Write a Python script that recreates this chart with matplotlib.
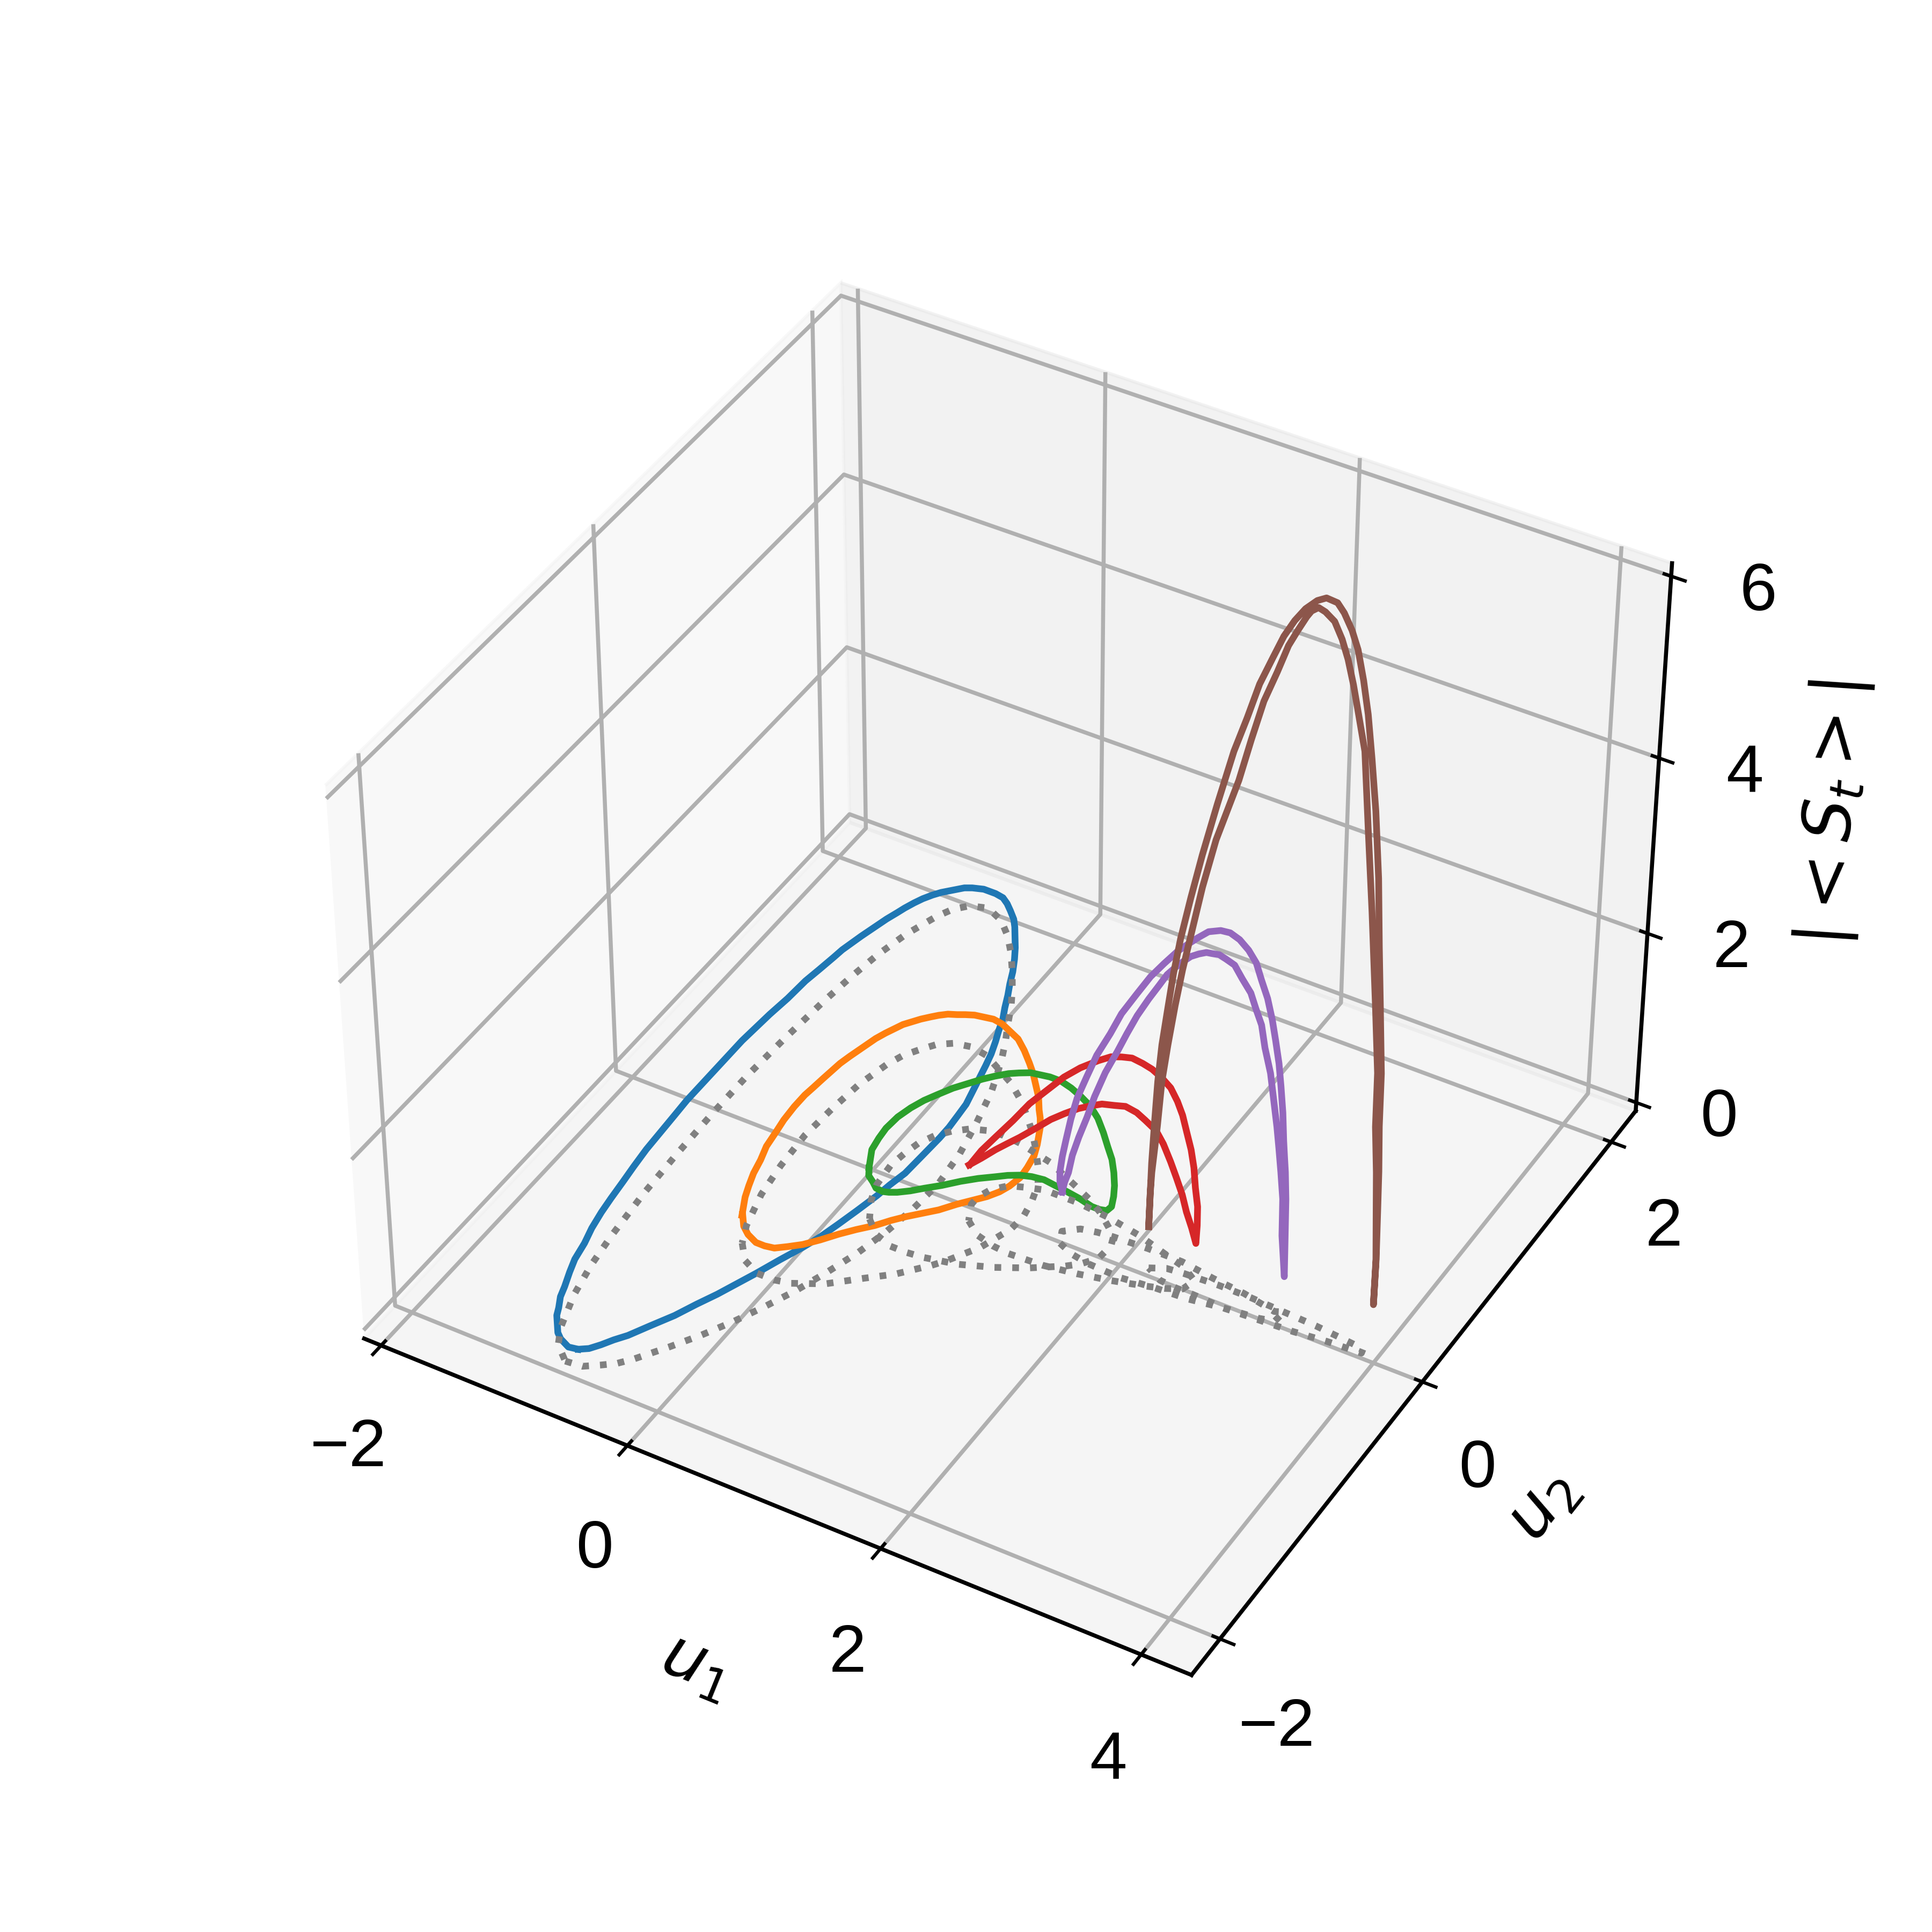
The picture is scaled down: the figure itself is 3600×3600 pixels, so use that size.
import matplotlib
matplotlib.use('Agg')
import matplotlib.pyplot as plt

plt.rcParams['font.family'] = ['Liberation Sans', 'DejaVu Sans']
plt.rcParams['font.size'] = 20
plt.rcParams['grid.linewidth'] = 1.2
plt.rcParams['axes.linewidth'] = 1.2
plt.rcParams['xtick.major.width'] = 1.0
plt.rcParams['ytick.major.width'] = 1.0

u1_blue = [-0.59,-0.53,-0.48,-0.43,-0.37,-0.29,-0.20,-0.13,-0.06,0.00,0.06,0.13,0.20,0.25,0.29,0.33,0.37,0.39,0.42,0.43,0.44,0.44,0.43,0.42,0.39,0.36,0.33,0.30,0.26,0.22,0.18,0.13,0.08,0.03,-0.02,-0.08,-0.14,-0.20,-0.26,-0.31,-0.38,-0.44,-0.50,-0.57,-0.62,-0.67,-0.71,-0.75,-0.80,-0.84,-0.88,-0.92,-0.96,-1.00,-1.03,-1.06,-1.08,-1.11,-1.13,-1.15,-1.17,-1.19,-1.21,-1.22,-1.24,-1.26,-1.27,-1.29,-1.30,-1.31,-1.31,-1.31,-1.31,-1.31,-1.30,-1.29,-1.28,-1.26,-1.24,-1.22,-1.20,-1.17,-1.13,-1.10,-1.06,-1.01,-0.98,-0.93,-0.90,-0.85,-0.80,-0.75,-0.66,-0.59]
u2_blue = [-2.04,-2.01,-1.96,-1.90,-1.84,-1.73,-1.61,-1.49,-1.38,-1.27,-1.16,-1.02,-0.89,-0.78,-0.66,-0.53,-0.39,-0.29,-0.18,-0.03,0.13,0.22,0.32,0.41,0.51,0.61,0.71,0.80,0.89,0.97,1.06,1.14,1.23,1.31,1.40,1.49,1.57,1.64,1.71,1.76,1.81,1.85,1.88,1.89,1.89,1.89,1.88,1.87,1.85,1.82,1.79,1.76,1.72,1.67,1.62,1.56,1.51,1.44,1.38,1.32,1.26,1.19,1.12,1.05,0.93,0.82,0.66,0.51,0.39,0.27,0.15,0.02,-0.11,-0.25,-0.38,-0.52,-0.66,-0.80,-0.92,-1.05,-1.16,-1.28,-1.39,-1.51,-1.60,-1.70,-1.77,-1.84,-1.89,-1.94,-1.99,-2.02,-2.05,-2.04]
s_blue = [0.35] * 94

u1_orange = [-0.22,-0.15,-0.08,0.01,0.08,0.15,0.22,0.30,0.38,0.46,0.54,0.63,0.70,0.77,0.85,0.93,1.01,1.08,1.15,1.20,1.23,1.25,1.24,1.22,1.18,1.04,0.99,0.94,0.87,0.79,0.71,0.63,0.53,0.43,0.34,0.25,0.17,0.10,0.03,-0.03,-0.08,-0.14,-0.19,-0.23,-0.28,-0.32,-0.36,-0.39,-0.42,-0.45,-0.47,-0.49,-0.51,-0.53,-0.54,-0.55,-0.56,-0.57,-0.57,-0.56,-0.54,-0.52,-0.48,-0.45,-0.41,-0.37,-0.33,-0.29]
u2_orange = [-0.96,-1.03,-1.07,-1.10,-1.10,-1.09,-1.05,-1.00,-0.93,-0.85,-0.78,-0.71,-0.64,-0.58,-0.52,-0.46,-0.38,-0.32,-0.26,-0.20,-0.14,-0.06,0.02,0.11,0.19,0.39,0.45,0.50,0.58,0.65,0.72,0.78,0.85,0.91,0.94,0.97,0.98,0.97,0.96,0.94,0.92,0.90,0.87,0.84,0.80,0.76,0.72,0.67,0.62,0.56,0.50,0.44,0.38,0.31,0.24,0.17,0.09,0.02,-0.08,-0.19,-0.29,-0.40,-0.50,-0.60,-0.69,-0.77,-0.83,-0.89]
s_orange = [0.60] * 25 + [0.45] * 43

u1_green = [0.38,0.42,0.48,0.53,0.68,0.72,0.77,0.84,0.91,1.00,1.09,1.18,1.27,1.34,1.41,1.49,1.58,1.68,1.78,1.72,1.83,1.89,1.94,1.97,1.93,1.88,1.81,1.73,1.64,1.54,1.43,1.32,1.21,1.11,1.01,0.92,0.85,0.78,0.71,0.65,0.58,0.52,0.46,0.39,0.33,0.28,0.24,0.21,0.20,0.21,0.23,0.27,0.31]
u2_green = [-0.47,-0.52,-0.55,-0.58,-0.69,-0.68,-0.66,-0.62,-0.57,-0.51,-0.44,-0.38,-0.33,-0.29,-0.26,-0.24,-0.23,-0.24,-0.25,-0.05,-0.07,-0.07,-0.06,-0.05,0.02,0.09,0.17,0.25,0.32,0.40,0.48,0.54,0.58,0.61,0.63,0.63,0.62,0.61,0.58,0.55,0.50,0.45,0.39,0.32,0.24,0.17,0.09,0.00,-0.10,-0.18,-0.27,-0.33,-0.39]
s_green = [0.80] * 4 + [1.00] * 15 + [0.60] * 4 + [0.65] * 30

u1_red = [0.78,0.82,0.87,0.96,1.06,1.18,1.31,1.44,1.59,1.69,1.79,1.88,1.98,2.07,2.16,2.24,2.31,2.36,2.41,2.47,2.51,2.54,2.56,2.56,2.56,2.54,2.52,2.50,2.46,2.42,2.37,2.32,2.25,2.19,2.11,2.04,1.95,1.87,1.79,1.69,1.59,1.48,1.36,1.26,1.16,1.04,0.88]
u2_red = [0.02,0.08,0.16,0.22,0.26,0.29,0.29,0.29,0.28,0.28,0.26,0.25,0.23,0.21,0.19,0.18,0.16,0.15,0.13,0.10,0.08,0.06,0.06,0.06,0.05,0.03,0.00,-0.02,-0.03,-0.04,-0.05,-0.06,-0.08,-0.09,-0.10,-0.12,-0.13,-0.15,-0.16,-0.17,-0.18,-0.19,-0.20,-0.20,-0.19,-0.18,-0.11]
s_red = [0.38,0.48,0.56,0.72,0.92,1.11,1.33,1.51,1.69,1.79,1.87,1.92,1.94,1.95,1.93,1.87,1.78,1.66,1.52,1.39,1.23,1.04,0.83,0.61,0.41,0.61,0.83,1.05,1.24,1.42,1.61,1.75,1.86,1.93,1.97,1.97,1.95,1.91,1.85,1.75,1.64,1.49,1.33,1.20,1.06,0.88,0.61]

u1_purple = [1.53,1.51,1.51,1.52,1.54,1.57,1.61,1.67,1.73,1.81,1.88,1.98,2.07,2.18,2.29,2.37,2.45,2.54,2.64,2.72,2.80,2.87,2.93,2.98,3.03,3.07,3.10,3.13,3.15,3.17,3.19,3.20,3.21,3.22,3.23,3.24,3.25,3.24,3.22,3.20,3.18,3.15,3.12,3.08,3.05,3.01,2.97,2.91,2.85,2.79,2.74,2.69,2.65,2.60,2.54,2.49,2.43,2.37,2.32,2.24,2.16,2.09,2.01,1.91,1.82,1.76,1.69,1.64,1.61,1.58,1.56]
u2_purple = [0.01,0.01,0.01,0.02,0.03,0.04,0.05,0.07,0.09,0.12,0.14,0.16,0.18,0.17,0.16,0.15,0.15,0.14,0.13,0.12,0.11,0.11,0.11,0.10,0.10,0.10,0.10,0.10,0.10,0.10,0.09,0.09,0.09,0.09,0.08,0.07,0.02,0.03,0.03,0.03,0.03,0.03,0.03,0.02,0.02,0.01,0.01,0.00,0.00,-0.01,-0.01,-0.02,-0.02,-0.03,-0.03,-0.04,-0.04,-0.04,-0.05,-0.05,-0.06,-0.07,-0.06,-0.05,-0.04,-0.04,-0.03,-0.03,-0.03,-0.03,-0.03]
s_purple = [0.49,0.60,0.72,0.89,1.08,1.33,1.58,1.84,2.09,2.34,2.58,2.83,3.05,3.27,3.48,3.61,3.73,3.86,3.94,3.97,3.95,3.87,3.76,3.61,3.43,3.21,2.99,2.75,2.50,2.21,1.91,1.73,1.56,1.25,0.84,0.38,0.94,1.35,1.65,1.91,2.15,2.44,2.73,3.01,3.25,3.43,3.58,3.72,3.84,3.89,3.91,3.91,3.90,3.87,3.81,3.74,3.64,3.53,3.40,3.20,2.98,2.75,2.49,2.18,1.84,1.56,1.28,1.04,0.82,0.69,0.56]

u1_brown = [2.21,2.21,2.21,2.22,2.24,2.26,2.30,2.34,2.39,2.47,2.55,2.67,2.80,2.90,3.00,3.10,3.19,3.28,3.37,3.46,3.54,3.62,3.67,3.73,3.77,3.81,3.83,3.84,3.86,3.87,3.88,3.89,3.91,3.91,3.92,3.93,3.94,3.94,3.96,3.94,3.93,3.91,3.91,3.89,3.86,3.84,3.83,3.79,3.76,3.73,3.69,3.64,3.58,3.53,3.48,3.44,3.37,3.30,3.21,3.11,3.01,2.91,2.72,2.61,2.51,2.44,2.38,2.33,2.28,2.25,2.22,2.21,2.21]
u2_brown = [0.02,0.03,0.04,0.05,0.05,0.06,0.06,0.06,0.06,0.05,0.05,0.03,0.01,0.00,-0.02,-0.03,-0.05,-0.07,-0.09,-0.10,-0.12,-0.12,-0.12,-0.12,-0.11,-0.10,-0.07,-0.03,0.00,0.04,0.06,0.08,0.09,0.09,0.09,0.08,0.07,0.06,0.04,0.05,0.05,0.05,0.05,0.03,0.00,-0.04,-0.09,-0.11,-0.13,-0.15,-0.16,-0.17,-0.18,-0.18,-0.18,-0.17,-0.16,-0.15,-0.13,-0.12,-0.10,-0.08,-0.04,-0.02,0.01,0.02,0.03,0.03,0.04,0.04,0.03,0.03,0.02]
s_brown = [0.45,0.81,1.17,1.64,2.12,2.54,2.97,3.39,3.81,4.32,4.83,5.47,6.13,6.55,6.98,7.32,7.61,7.84,8.03,8.17,8.26,8.25,8.17,8.02,7.83,7.52,7.14,6.63,6.05,5.28,4.51,3.84,3.08,2.48,1.97,1.53,0.99,0.47,1.04,1.58,2.02,2.53,3.14,3.90,4.96,5.87,6.78,7.17,7.49,7.76,7.96,8.13,8.21,8.23,8.17,8.08,7.89,7.69,7.35,6.98,6.50,5.99,5.20,4.60,4.00,3.54,3.09,2.62,2.16,1.62,1.08,0.82,0.45]

u1_blue_floor = [-0.77,-0.64,-0.54,-0.45,-0.37,-0.23,-0.10,0.02,0.13,0.23,0.32,0.40,0.46,0.50,0.52,0.49,0.43,0.35,0.29,0.23,0.16,0.08,-0.00,-0.09,-0.19,-0.30,-0.42,-0.55,-0.70,-0.83,-0.92,-0.98,-1.07,-1.13,-1.17,-1.20,-1.23,-1.25,-1.25,-1.24,-1.22,-1.18,-1.14,-1.08,-0.98,-0.90,-0.77]
u2_blue_floor = [-1.97,-1.96,-1.91,-1.86,-1.79,-1.64,-1.49,-1.33,-1.16,-0.99,-0.80,-0.61,-0.41,-0.20,0.02,0.26,0.49,0.74,0.87,0.99,1.11,1.23,1.36,1.48,1.60,1.72,1.83,1.92,1.97,1.94,1.87,1.78,1.58,1.37,1.15,0.92,0.58,0.24,-0.08,-0.42,-0.76,-1.10,-1.33,-1.55,-1.78,-1.89,-1.97]
u1_orange_floor = [-0.35,-0.24,-0.10,0.04,0.16,0.37,0.56,0.74,0.91,0.98,1.11,1.20,1.21,1.18,1.13,1.03,0.93,0.82,0.69,0.56,0.42,0.27,0.12,-0.02,-0.15,-0.25,-0.33,-0.40,-0.45,-0.51,-0.54,-0.56,-0.54,-0.50,-0.42,-0.35]
u2_orange_floor = [-0.83,-0.93,-0.98,-0.98,-0.96,-0.88,-0.76,-0.65,-0.51,-0.44,-0.28,-0.09,0.02,0.14,0.26,0.38,0.48,0.58,0.68,0.77,0.85,0.91,0.97,0.99,0.97,0.92,0.84,0.76,0.66,0.46,0.24,0.00,-0.25,-0.48,-0.71,-0.83]
u1_green_floor = [0.29,0.41,0.56,0.69,0.82,1.06,1.30,1.51,1.72,1.80,1.88,1.89,1.86,1.78,1.66,1.52,1.37,1.09,0.80,0.66,0.53,0.42,0.32,0.24,0.18,0.15,0.13,0.15,0.20,0.29]
u2_green_floor = [-0.37,-0.45,-0.49,-0.49,-0.48,-0.44,-0.37,-0.29,-0.19,-0.14,-0.06,0.05,0.11,0.16,0.23,0.29,0.34,0.43,0.48,0.49,0.48,0.45,0.39,0.32,0.23,0.13,0.02,-0.14,-0.25,-0.37]
u1_red_floor = [0.90,1.03,1.18,1.31,1.58,1.83,2.07,2.31,2.43,2.54,2.57,2.44,2.29,2.02,1.74,1.47,1.20,1.07,0.96,0.87,0.83,0.83,0.90]
u2_red_floor = [-0.14,-0.21,-0.24,-0.25,-0.24,-0.21,-0.17,-0.12,-0.09,-0.05,0.03,0.09,0.12,0.18,0.22,0.24,0.24,0.21,0.18,0.11,0.03,-0.03,-0.14]
u1_purple_floor = [1.57,1.70,1.84,2.11,2.37,2.62,2.88,3.14,3.25,3.26,3.20,2.93,2.67,2.40,2.13,1.86,1.74,1.62,1.52,1.57]
u2_purple_floor = [-0.06,-0.10,-0.12,-0.13,-0.11,-0.10,-0.07,-0.05,-0.03,0.05,0.03,0.07,0.09,0.12,0.12,0.11,0.10,0.08,0.02,-0.06]
u1_brown_floor = [2.23,2.34,2.47,2.73,2.99,3.26,3.52,3.79,3.91,3.92,3.66,3.41,3.15,2.89,2.63,2.50,2.36,2.23]
u2_brown_floor = [-0.00,0.04,0.05,0.06,0.06,0.05,0.04,0.02,0.01,-0.02,-0.03,-0.05,-0.06,-0.07,-0.06,-0.06,-0.05,-0.00]

x_ticks = [-2, 0, 2, 4]
y_ticks = [-2, 0, 2]
z_ticks = [0, 2, 4, 6]

fig = plt.figure(figsize=(8, 8), dpi=450)
ax = fig.add_subplot(projection='3d')
ax.view_init(elev=40, azim=-60)

series = [
    ('C0', u1_blue, u2_blue, s_blue, u1_blue_floor, u2_blue_floor),
    ('C1', u1_orange, u2_orange, s_orange, u1_orange_floor, u2_orange_floor),
    ('C2', u1_green, u2_green, s_green, u1_green_floor, u2_green_floor),
    ('C3', u1_red, u2_red, s_red, u1_red_floor, u2_red_floor),
    ('C4', u1_purple, u2_purple, s_purple, u1_purple_floor, u2_purple_floor),
    ('C5', u1_brown, u2_brown, s_brown, u1_brown_floor, u2_brown_floor),
]
for color, a, b, s, fa, fb in series:
    ax.plot(a, b, s, color=color, lw=2)
    ax.plot(fa, fb, [0] * len(fa), color='gray', ls=':', lw=2)

ax.set_xlim(-2.14, 4.38)
ax.set_ylim(-2.27, 2.27)
ax.set_zlim(-0.1, 6.14)
ax.set_xticks(x_ticks)
ax.set_yticks(y_ticks)
ax.set_zticks(z_ticks)
ax.tick_params(pad=7.5)
ax.set_xlabel('$u_1$', labelpad=13)
ax.set_ylabel('$u_2$', labelpad=13)
ax.set_zlabel('$|<S_t>|$', labelpad=12)
fig.savefig('out.png')
